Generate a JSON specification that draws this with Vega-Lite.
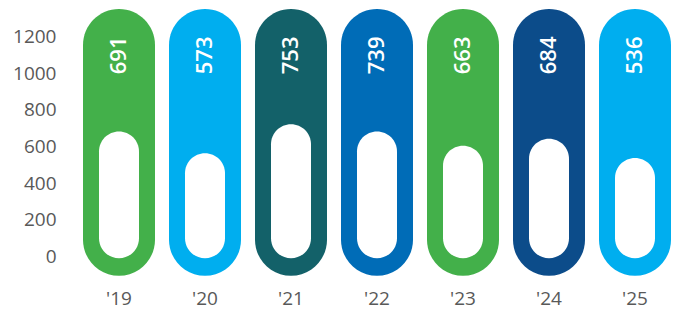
{
  "$schema": "https://vega.github.io/schema/vega-lite/v6.json",
  "width": 602,
  "height": 267,
  "autosize": {"type": "none"},
  "padding": {"left": 76, "top": 9, "right": 0, "bottom": 42},
  "background": "white",
  "config": {"view": {"stroke": null}, "font": "Open Sans"},
  "data": {
    "values": [
      {"year": "'19", "value": 691, "inner": 682},
      {"year": "'20", "value": 573, "inner": 564},
      {"year": "'21", "value": 753, "inner": 722},
      {"year": "'22", "value": 739, "inner": 682},
      {"year": "'23", "value": 663, "inner": 604},
      {"year": "'24", "value": 684, "inner": 642},
      {"year": "'25", "value": 536, "inner": 537}
    ]
  },
  "encoding": {
    "x": {
      "field": "year",
      "type": "nominal",
      "sort": null,
      "scale": {"paddingInner": 0, "paddingOuter": 0},
      "axis": {
        "title": null,
        "domain": false,
        "ticks": false,
        "labelAngle": 0,
        "labelFontSize": 19,
        "labelColor": "#595959",
        "labelPadding": 13,
        "labelFont": "Open Sans"
      }
    }
  },
  "layer": [
    {
      "mark": {"type": "bar", "width": 72, "cornerRadius": 36},
      "encoding": {
        "y": {
          "datum": -105,
          "type": "quantitative",
          "scale": {"domain": [-106, 1350], "nice": false, "zero": false},
          "axis": {
            "title": null,
            "values": [0, 200, 400, 600, 800, 1000, 1200],
            "format": "d",
            "domain": false,
            "ticks": false,
            "grid": false,
            "labelFontSize": 19,
            "labelColor": "#595959",
            "labelPadding": 20,
            "labelFont": "Open Sans"
          }
        },
        "y2": {"datum": 1350},
        "color": {
          "field": "year",
          "type": "nominal",
          "scale": {
            "domain": ["'19", "'20", "'21", "'22", "'23", "'24", "'25"],
            "range": ["#43B04A", "#00AEEF", "#136169", "#006CB7", "#43B04A", "#0C4C8A", "#00AEEF"]
          },
          "legend": null
        }
      }
    },
    {
      "mark": {"type": "bar", "width": 40, "cornerRadius": 20, "color": "white"},
      "encoding": {
        "y": {"field": "inner", "type": "quantitative"},
        "y2": {"datum": -9}
      }
    },
    {
      "mark": {
        "type": "text",
        "angle": 270,
        "align": "right",
        "baseline": "middle",
        "color": "white",
        "fontSize": 22,
        "fontWeight": 600,
        "font": "Open Sans"
      },
      "encoding": {
        "y": {"datum": 1200, "type": "quantitative"},
        "text": {"field": "value", "type": "quantitative"}
      }
    }
  ]
}
